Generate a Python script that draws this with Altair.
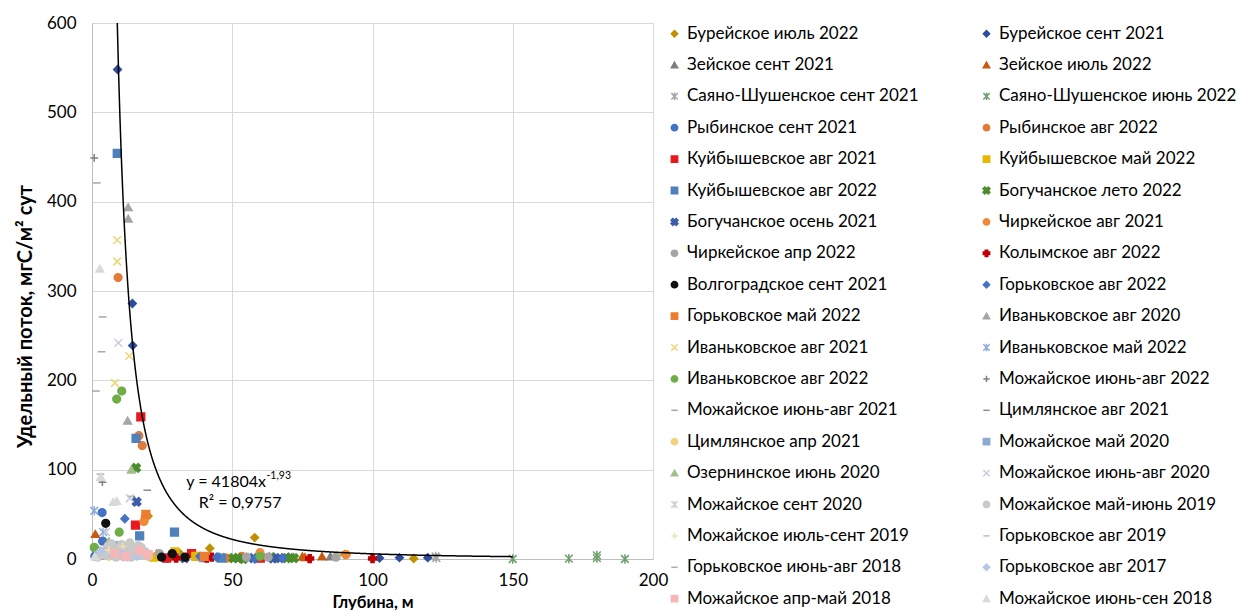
import math
import altair as alt
import pandas as pd

# ---------------- data ----------------
SERIES = [
    "Бурейское июль 2022", "Бурейское сент 2021",
    "Зейское сент  2021", "Зейское июль 2022",
    "Саяно-Шушенское сент 2021", "Саяно-Шушенское июнь 2022",
    "Рыбинское сент 2021", "Рыбинское авг 2022",
    "Куйбышевское авг 2021", "Куйбышевское май 2022",
    "Куйбышевское авг 2022", "Богучанское лето 2022",
    "Богучанское осень 2021", "Чиркейское авг 2021",
    "Чиркейское апр 2022", "Колымское авг 2022",
    "Волгоградское сент 2021", "Горьковское авг 2022",
    "Горьковское май 2022", "Иваньковское авг 2020",
    "Иваньковское авг 2021", "Иваньковское май 2022",
    "Иваньковское авг 2022", "Можайское июнь-авг 2022",
    "Можайское июнь-авг 2021", "Цимлянское авг 2021",
    "Цимлянское апр 2021", "Можайское май 2020",
    "Озернинское июнь 2020", "Можайское июнь-авг 2020",
    "Можайское сент 2020", "Можайское май-июнь 2019",
    "Можайское июль-сент 2019", "Горьковское авг 2019",
    "Горьковское июнь-авг 2018", "Горьковское авг 2017",
    "Можайское апр-май 2018", "Можайское июнь-сен 2018",
]

DEPTH = [
    [20, 31.4, 42, 58, 90, 114.7],
    [9.1, 14.4, 14.5, 64.6, 70, 102.5, 109.6, 119.7],
    [5, 27, 40, 71.8, 85],
    [1.2, 23, 47, 75, 75.9, 82],
    [122.5, 122.8],
    [150, 170, 180, 180, 190],
    [1, 2, 3.6, 3.8, 26.6, 45, 1.5],
    [9.3, 16.7, 17.9, 48, 53.4],
    [15.5, 17.4, 26.6, 35.5, 60],
    [22, 29.6, 37],
    [9, 15.7, 17, 29.4, 46.2],
    [15.7, 50.4, 52, 54, 64, 69.4, 72],
    [12, 15.9, 33, 57.5, 64.5, 67],
    [18.5, 19, 59.9, 90.6],
    [24, 30, 38.5, 55.1, 62.8, 87],
    [30, 40.9, 42.7, 77.6, 100],
    [4.9, 24.8, 28.6, 33.2],
    [11.7, 13, 38.5, 44.4, 58, 68],
    [19.2, 40],
    [12.7, 12.9, 12.9],
    [8.2, 9, 9, 13.3],
    [0.8, 4, 8],
    [0.8, 8.8, 9.7, 10.6, 59.9],
    [0.8, 3.7],
    [1.4, 1.7, 3.4, 3.8],
    [14, 19.7],
    [12, 15, 6],
    [6, 10, 14, 19],
    [6, 14],
    [5, 9.4, 13.5],
    [6, 10, 17],
    [2, 3, 4, 5, 6, 7, 8, 9, 10, 11, 12, 13, 14, 15, 16, 17, 18, 19, 20,
     5.5, 8.5, 11.5, 14.5, 17.5, 7, 10.5, 13.5, 16.5],
    [6, 11],
    [4, 9],
    [2, 3],
    [7, 11, 16, 3],
    [8, 12, 17, 20],
    [1, 2.8, 3.1, 7.6, 8.8],
]

FLUX = [
    [48, 6, 12, 24, 5, 0.5],
    [548, 286, 239, 2, 2, 1, 1.5, 1.5],
    [4, 2, 1, 2, 3],
    [28, 6, 2, 3, 2, 3],
    [3, 1],
    [0, 0.5, 1, 4, 0],
    [3, 6, 52, 20, 1, 2, 10],
    [315, 138, 127, 1, 3],
    [38, 159, 1, 6, 1],
    [2, 8, 3],
    [454, 135, 26, 30, 1],
    [102, 1, 1, 0, 2, 1, 1],
    [3, 64, 1, 1, 0.5, 1],
    [42, 47, 7, 5],
    [6, 2, 2, 2, 2, 2],
    [1, 1, 2, 0.5, 0.5],
    [40, 2, 6, 2],
    [45, 5, 3, 2, 0, 1],
    [50, 3],
    [155, 394, 381],
    [197, 357, 333, 227],
    [54, 30, 10],
    [13, 179, 30, 188, 3],
    [449, 86],
    [188, 421, 232, 271],
    [70, 77],
    [12, 8, 3],
    [6, 15, 10, 4],
    [20, 100],
    [30, 242, 68],
    [14, 8, 6],
    [2, 5, 8, 4, 10, 6, 12, 3, 9, 5, 11, 7, 2, 10, 6, 12, 4, 8, 3,
     13, 2, 14, 11, 13, 17, 16, 18, 15],
    [10, 14],
    [12, 4],
    [8, 95],
    [4, 6, 3, 9],
    [6, 3, 9, 5],
    [3, 325, 92, 64, 65],
]

COLORS = [
    "#BF9000", "#2E4D9B",
    "#7F7F7F", "#C55A11",
    "#A6A6A6", "#6E9E6E",
    "#4472C4", "#E07B39",
    "#E8191E", "#E6B800",
    "#4F81BD", "#4C8C2B",
    "#3C5DA8", "#F08A3C",
    "#A5A5A5", "#C00000",
    "#111111", "#4472C4",
    "#ED7D31", "#A5A5A5",
    "#EBD67A", "#8EA9DB",
    "#70AD47", "#808080",
    "#A6A6A6", "#8C8C8C",
    "#F2D27E", "#8FAAD0",
    "#A3BE8C", "#C5CCDC",
    "#D0D0D0", "#C9C9C9",
    "#F3DFAE", "#BFBFBF",
    "#ADADAD", "#B4C7E7",
    "#F4B6B6", "#D9D9D9",
]

MARKERS = [
    "diamond", "diamond",
    "triangle", "triangle",
    "ast", "ast",
    "circle", "circle",
    "square", "square",
    "square", "xbold",
    "xbold", "circle",
    "circle", "cross",
    "circle", "diamond",
    "square", "triangle",
    "x", "ast",
    "circle", "plus",
    "dash", "dash",
    "circle", "square",
    "triangle", "x",
    "ast", "circle",
    "plus", "dash",
    "dash", "diamond",
    "square", "triangle",
]

# trend line given on the chart: y = 41804 x^-1.93, R² = 0.9757
FIT_A = 41804
FIT_B = -1.93
FIT_X_START = 8.4
FIT_X_END = 150
EQ_TEXT = "y = 41804x"
EQ_SUP = "-1,93"
R2_TEXT = "R² = 0,9757"

# ---------------- styles ----------------
def bold_x_path(a=0.34):
    pts = [(-1, -a), (-a, -a), (-a, -1), (a, -1), (a, -a), (1, -a),
           (1, a), (a, a), (a, 1), (-a, 1), (-a, a), (-1, a)]
    s = 1.0 / math.sqrt(2)
    rot = [((x - y) * s * 1.15, (x + y) * s * 1.15) for x, y in pts]
    return "M" + "L".join(f"{x:.3f},{y:.3f}" for x, y in rot) + "Z"

SHAPE_PATHS = {
    "diamond": "diamond",
    "triangle": "triangle-up",
    "circle": "circle",
    "square": "square",
    "cross": "cross",
    "xbold": bold_x_path(),
    "x": "M-1,-1L1,1M-1,1L1,-1",
    "ast": "M-1,-1L1,1M-1,1L1,-1M0,-1.2L0,1.2",
    "plus": "M-1,0L1,0M0,-1L0,1",
    "dash": "M-1,0L1,0",
}
STROKE_ONLY = {"x", "ast", "plus", "dash"}

shape_range = [SHAPE_PATHS[m] for m in MARKERS]
fill_range = ["transparent" if m in STROKE_ONLY else c for m, c in zip(MARKERS, COLORS)]
stroke_range = list(COLORS)

rows = []
for i, name in enumerate(SERIES):
    for xv, yv in zip(DEPTH[i], FLUX[i]):
        rows.append({"series": name, "depth": xv, "flux": yv, "order": i})
df = pd.DataFrame(rows)

FONT = "Lato"
W, H = 561, 536

legend = alt.Legend(
    title=None, orient="none", legendX=574, legendY=2, columns=2, direction="horizontal",
    columnPadding=59, rowPadding=13.4, symbolSize=40, symbolStrokeWidth=1.5,
    labelFont=FONT, labelFontSize=17, labelColor="#000000", labelLimit=400,
    labelOffset=4, padding=0, symbolLimit=0,
)

x_scale = alt.Scale(domain=[0, 200], nice=False)
y_scale = alt.Scale(domain=[0, 600], nice=False)

x_axis = alt.Axis(
    values=[0, 50, 100, 150, 200], title="Глубина, м", tickSize=0, labelPadding=13,
    labelFlush=False,
    labelFont=FONT, labelFontSize=17, labelColor="#000000",
    titleFont=FONT, titleFontSize=16.5, titleFontWeight="bold", titleColor="#000000",
    titleY=43, titleBaseline="middle", domainColor="#BFBFBF", gridColor="#D9D9D9",
)
y_axis = alt.Axis(
    values=[0, 100, 200, 300, 400, 500, 600], title="Удельный поток, мгС/м² сут",
    tickSize=0, labelPadding=16, labelFlush=False,
    labelFont=FONT, labelFontSize=17, labelColor="#000000",
    titleFont=FONT, titleFontSize=20, titleFontWeight="bold", titleColor="#000000",
    titleX=-67, titleY=293, titleBaseline="middle", titleAlign="center",
    domainColor="#BFBFBF", gridColor="#D9D9D9",
)

points = alt.Chart(df).mark_point(
    filled=True, size=60, strokeWidth=1.5, opacity=1
).encode(
    x=alt.X("depth:Q", scale=x_scale, axis=x_axis),
    y=alt.Y("flux:Q", scale=y_scale, axis=y_axis),
    fill=alt.Fill("series:N", scale=alt.Scale(domain=SERIES, range=fill_range), legend=legend),
    stroke=alt.Stroke("series:N", scale=alt.Scale(domain=SERIES, range=stroke_range), legend=legend),
    shape=alt.Shape("series:N", scale=alt.Scale(domain=SERIES, range=shape_range), legend=legend),
    order=alt.Order("order:Q"),
)

fit = alt.Chart(alt.sequence(FIT_X_START, FIT_X_END + 0.01, 0.1, as_="depth")).transform_calculate(
    flux=f"{FIT_A}*pow(datum.depth,{FIT_B})"
).mark_line(color="#000000", strokeWidth=1.5, clip=True).encode(
    x=alt.X("depth:Q", scale=x_scale),
    y=alt.Y("flux:Q", scale=y_scale),
)

ann_df = pd.DataFrame([
    {"depth": 33.6, "flux": 86.6, "t": EQ_TEXT},
    {"depth": 62.2, "flux": 92.5, "t": EQ_SUP},
    {"depth": 52.8, "flux": 62.4, "t": R2_TEXT},
])
ann_main = alt.Chart(ann_df[ann_df["t"] == EQ_TEXT]).mark_text(
    align="left", baseline="middle", font=FONT, fontSize=16, color="#000000"
).encode(x=alt.X("depth:Q", scale=x_scale), y=alt.Y("flux:Q", scale=y_scale), text="t:N")
ann_sup = alt.Chart(ann_df[ann_df["t"] == EQ_SUP]).mark_text(
    align="left", baseline="middle", font=FONT, fontSize=10.5, color="#000000"
).encode(x=alt.X("depth:Q", scale=x_scale), y=alt.Y("flux:Q", scale=y_scale), text="t:N")
ann_r2 = alt.Chart(ann_df[ann_df["t"] == R2_TEXT]).mark_text(
    align="center", baseline="middle", font=FONT, fontSize=16, color="#000000"
).encode(x=alt.X("depth:Q", scale=x_scale), y=alt.Y("flux:Q", scale=y_scale), text="t:N")

chart = alt.layer(points, fit, ann_main, ann_sup, ann_r2).properties(
    width=W, height=H,
    autosize=alt.AutoSizeParams(type="none"),
    padding={"left": 92, "top": 23, "right": 1237 - 92 - W, "bottom": 610 - 23 - H},
).configure_view(stroke=None).configure(background="#FFFFFF")

chart.save("out.html", embed_options={"renderer": "svg", "actions": False})
